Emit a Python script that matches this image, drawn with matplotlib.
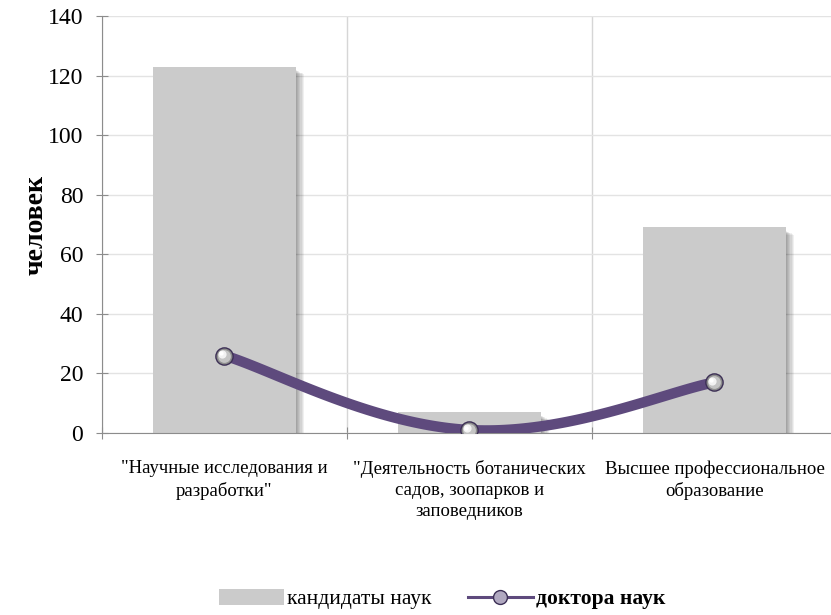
import matplotlib.pyplot as plt
import numpy as np
from matplotlib.lines import Line2D
from matplotlib.patches import Patch

plt.rcParams['font.family'] = ['Liberation Serif', 'DejaVu Serif']

categories = ['"Научные исследования и\nразработки"',
              '"Деятельность ботанических\nсадов, зоопарков и\nзаповедников',
              'Высшее профессиональное\nобразование']
candidates = [123, 7, 69]
doctors = [26, 1, 17]
yticks = [0, 20, 40, 60, 80, 100, 120, 140]

BAR = '#cbcbcb'
LINE = '#5e4a7d'
GRID = '#e3e3e3'
AXIS = '#8c8c8c'


def smooth(xs, ys, n=60, t=1 / 5):
    # cubic bezier segments with catmull-rom style control points
    px, py = [], []
    pts = np.column_stack([xs, ys]).astype(float)
    for i in range(len(pts) - 1):
        p0 = pts[max(i - 1, 0)]
        p1 = pts[i]
        p2 = pts[i + 1]
        p3 = pts[min(i + 2, len(pts) - 1)]
        c1 = p1 + (p2 - p0) * t
        c2 = p2 - (p3 - p1) * t
        s = np.linspace(0, 1, n)[:, None]
        seg = ((1 - s) ** 3) * p1 + 3 * ((1 - s) ** 2) * s * c1 + 3 * (1 - s) * s ** 2 * c2 + s ** 3 * p2
        px.extend(seg[:, 0])
        py.extend(seg[:, 1])
    return np.array(px), np.array(py)


fig = plt.figure(figsize=(8.31, 6.15), dpi=100)
ax = fig.add_axes([0.1227, 0.296, 0.8845, 0.678])

x = np.arange(len(categories))
width = 0.585

# soft shadow to the right of each bar
for k in range(7):
    off = 0.004 + k * 0.0045
    ax.bar(x + off, np.array(candidates) - 1.2 - k * 0.2, width, bottom=0,
           color='#000000', alpha=0.06, zorder=1, linewidth=0)
ax.bar(x, candidates, width, color=BAR, zorder=2, linewidth=0)

sx, sy = smooth(x, doctors)
ax.plot(sx, sy, color=LINE, lw=7.5, solid_capstyle='round', zorder=3)

# spherical markers
ax.scatter(x, doctors, s=180, color='#3c2f55', zorder=4, linewidths=0)
ax.scatter(x, doctors, s=130, color='#8d8d8d', zorder=5, linewidths=0)
ax.scatter(x, doctors, s=85, color='#c4c4c4', zorder=6, linewidths=0)
ax.scatter(x - 0.01, np.array(doctors) + 0.5, s=35, color='#f2f2f2', zorder=7, linewidths=0)
ax.scatter(x - 0.015, np.array(doctors) + 0.8, s=10, color='#ffffff', zorder=8, linewidths=0)

ax.set_xlim(-0.5, len(categories) - 0.5)
ax.set_ylim(0, 140)
ax.set_yticks(yticks)
ax.set_yticklabels([str(v) for v in yticks], fontsize=17)

ax.set_xticks([-0.5, 0.5, 1.5, 2.5])
ax.set_xticklabels([])
ax.tick_params(axis='x', length=9, color=AXIS, direction='inout')
ax.tick_params(axis='y', length=9, color=AXIS, direction='inout', pad=9)
for i, lab in enumerate(categories):
    ax.text(i, -9.2, lab, ha='center', va='top', fontsize=13.5, linespacing=1.3)

ax.grid(axis='y', color=GRID, lw=1, zorder=0)
ax.grid(axis='x', color='#d6d6d6', lw=1, zorder=0)
ax.set_axisbelow(True)
for side in ['top', 'right']:
    ax.spines[side].set_visible(False)
ax.spines['left'].set_color(AXIS)
ax.spines['bottom'].set_color(AXIS)

ax.set_ylabel('человек', fontsize=20, fontweight='bold')
ax.yaxis.set_label_coords(-0.072, 0.5)

handles = [Patch(facecolor=BAR, edgecolor='none'),
           Line2D([0], [0], color=LINE, lw=2.2, marker='o', markersize=10,
                  markerfacecolor='#b0a8c0', markeredgecolor='#3c2f55')]
leg = fig.legend(handles, ['кандидаты наук', 'доктора наук'], loc='center',
                 bbox_to_anchor=(0.532, 0.026), ncol=2, frameon=False,
                 fontsize=15.5, handlelength=3.0, handleheight=0.8, columnspacing=1.7,
                 handletextpad=0.15)
leg.get_texts()[1].set_fontweight('bold')

fig.savefig('out.png', dpi=100)
